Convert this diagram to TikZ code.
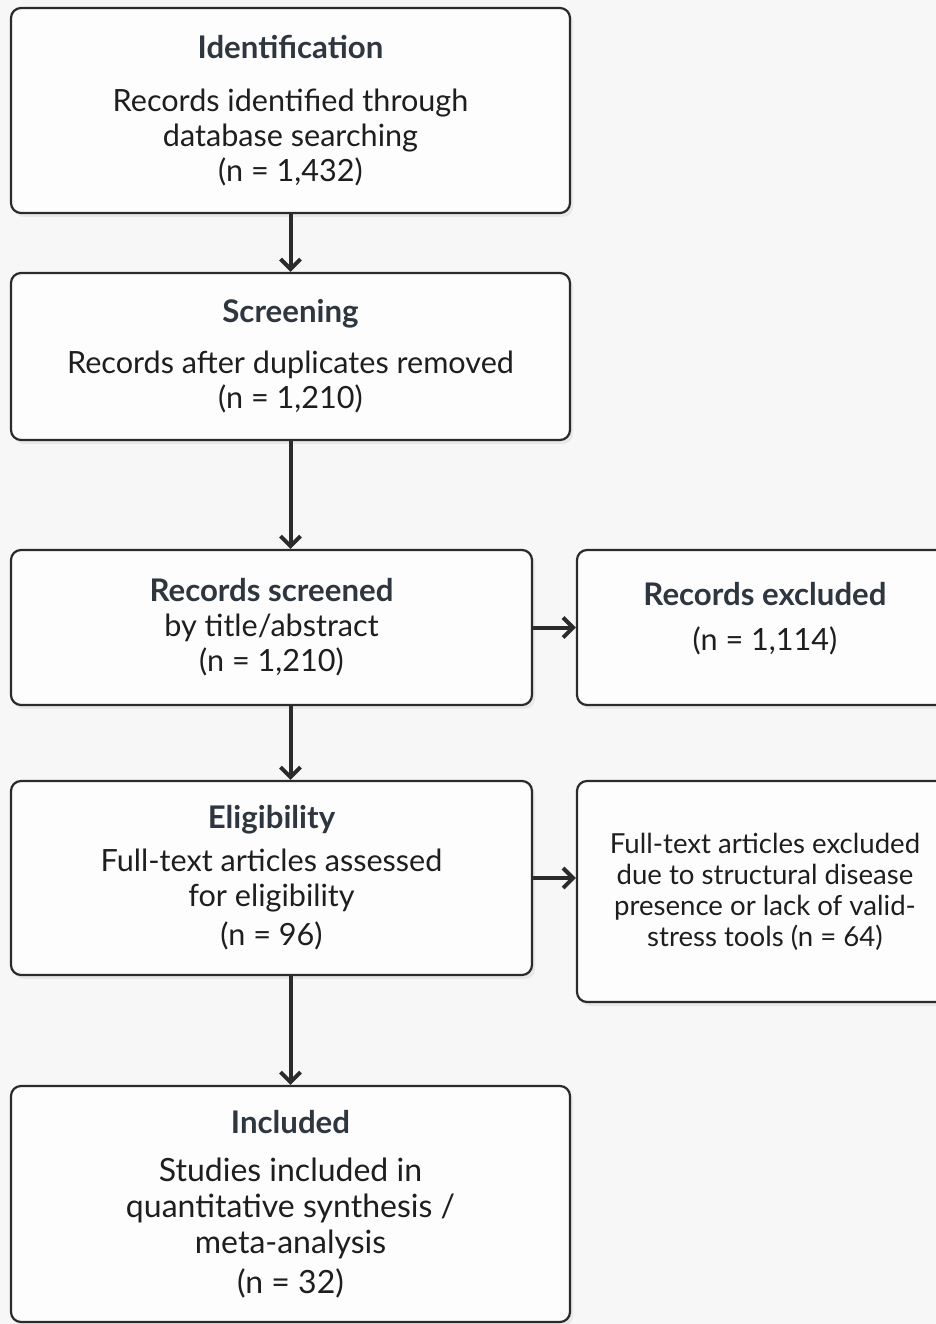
\documentclass[tikz,border=0pt]{standalone}
\usepackage{fontspec}
\setmainfont{Lato}
\usetikzlibrary{arrows.meta,shadows}
\definecolor{bgcol}{HTML}{F7F7F7}
\definecolor{boxfill}{HTML}{FDFDFD}
\definecolor{edge}{HTML}{2B2B2B}
\definecolor{headcol}{HTML}{2E3640}
\definecolor{txtcol}{HTML}{1E1E1E}
\tikzset{
  stage/.style={draw=edge, line width=1.1pt, fill=boxfill, rounded corners=5pt,
    align=center, text=txtcol, inner sep=0pt,
    font=\fontsize{15.3}{17.5}\selectfont,
    drop shadow={opacity=0.12, shadow xshift=1.5pt, shadow yshift=-2pt}},
  flow/.style={->, line width=2pt, draw=edge},
}
\newcommand{\hd}[1]{{\fontsize{15.6}{17.5}\selectfont\bfseries\color{headcol}#1}}

\begin{document}
\begin{tikzpicture}[x=0.5pt, y=-0.5pt, >={Straight Barb[length=5pt,width=10pt]}]

\useasboundingbox (0,0) rectangle (936,1324);
\fill[bgcol] (0,0) rectangle (936,1324);

% main column
\node[stage, minimum width=279.5pt, minimum height=102.5pt] at (290.5,110.5) (ident)
  {\hd{Identification}\\[9pt] Records identified through\\ database searching\\ (n = 1,432)};
\node[stage, minimum width=279.5pt, minimum height=83.5pt] at (290.5,356.5) (screen)
  {\hd{Screening}\\[8pt] Records after duplicates removed\\ (n = 1,210)};
\node[stage, minimum width=260.5pt, minimum height=77.5pt] at (271.5,627.5) (screened)
  {\hd{Records screened}\\ by title/abstract\\ (n = 1,210)};
\node[stage, minimum width=260.5pt, minimum height=97pt] at (271.5,878) (elig)
  {\hd{Eligibility}\\[4pt] Full-text articles assessed\\ for eligibility\\[2pt] (n = 96)};
\node[stage, minimum width=279.5pt, minimum height=118pt, font=\fontsize{16}{18}\selectfont] at (290.5,1204) (incl)
  {\hd{Included}\\[6pt] Studies included in\\ quantitative synthesis /\\ meta-analysis\\[2pt] (n = 32)};

% side boxes
\node[stage, minimum width=188pt, minimum height=77.5pt] at (765,627.5) (excl1)
  {\hd{Records excluded}\\[5pt] (n = 1,114)\\[-6pt]\mbox{}};
\node[stage, minimum width=188pt, minimum height=110.5pt, font=\fontsize{13.8}{15.5}\selectfont] at (765,891.5) (excl2)
  {Full-text articles excluded\\ due to structural disease\\ presence or lack of valid-\\ stress tools (n = 64)};

\draw[flow] (ident) -- (screen);
\draw[flow] (screen.south) -- (screen.south |- screened.north);
\draw[flow] (screen.south |- screened.south) -- (screen.south |- elig.north);
\draw[flow] (screen.south |- elig.south) -- (incl.north);
\draw[flow] (screened.east) -- (excl1.west);
\draw[flow] (elig.east) -- (excl2.west |- elig.east);
\end{tikzpicture}
\end{document}
